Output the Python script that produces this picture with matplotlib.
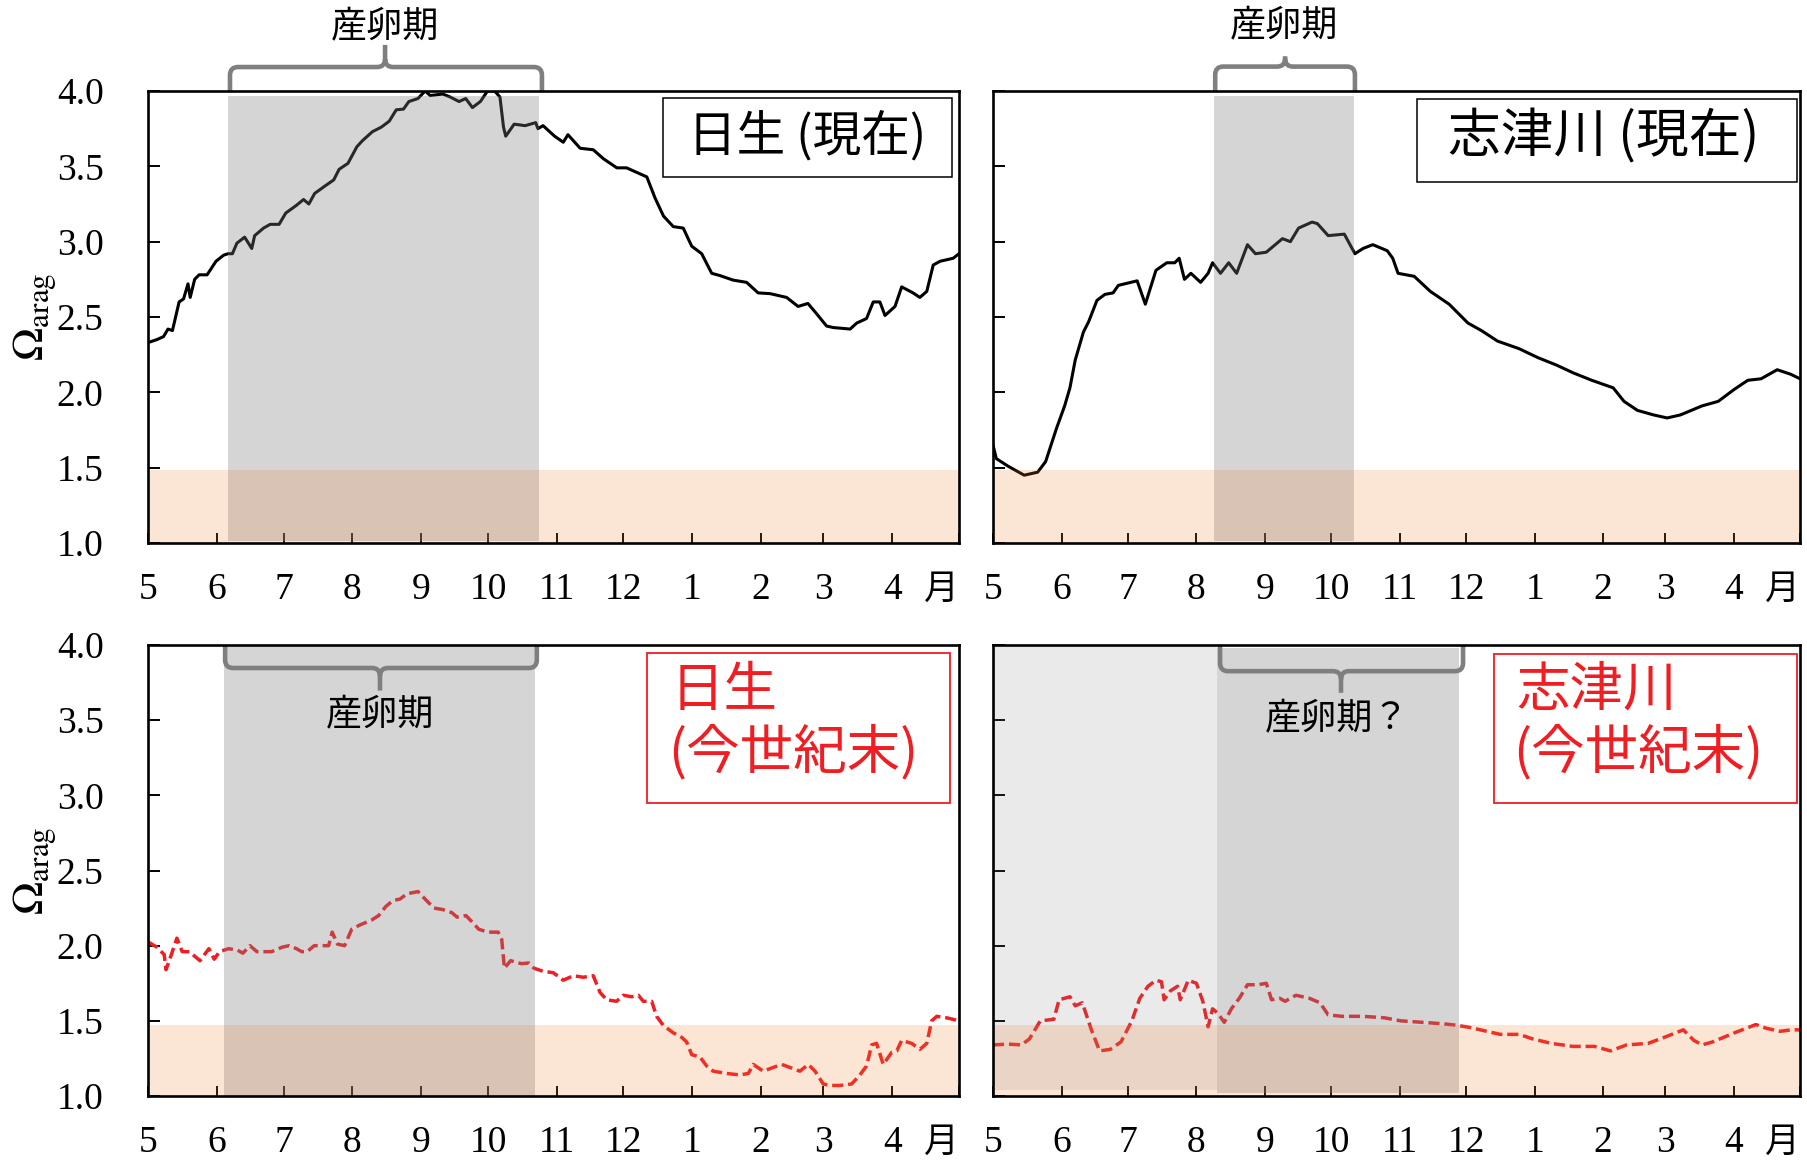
import matplotlib
matplotlib.use("Agg")
import matplotlib.pyplot as plt
from matplotlib.path import Path
from matplotlib.patches import PathPatch, Rectangle
from matplotlib.transforms import blended_transform_factory

plt.rcParams['font.family'] = ['Liberation Serif', 'DejaVu Serif']
plt.rcParams['mathtext.fontset'] = 'stix'
JP = ['Noto Sans CJK JP', 'DejaVu Sans']

# ---- axis definitions (days counted from 1 May) ----
month_days = [0, 31, 61, 92, 123, 153, 184, 214, 245, 276, 304, 335, 365]
month_labels = ['5', '6', '7', '8', '9', '10', '11', '12', '1', '2', '3', '4', '']
y_ticks = [1.0, 1.5, 2.0, 2.5, 3.0, 3.5, 4.0]

# ---- 日生 (現在) ----
hinase_now_day = [0, 4, 7, 9, 11, 14, 16, 18, 19, 21, 23, 26.6, 30.6, 34, 36, 38, 40, 43.5,
                  46.7, 48, 52, 55, 59, 62, 66.7, 70, 72.4, 75, 79.7, 83.6, 86, 90, 94, 96.5,
                  101, 105, 108.6, 111.7, 115, 117.4, 121.5, 124.7, 127, 132.7, 136, 140, 143,
                  146, 149.6, 152.8, 156, 158.4, 160, 161, 164.8, 169.7, 174.5, 175.5, 177.8,
                  183, 186.9, 189, 194.5, 200.4, 205, 211, 215.4, 218.4, 224.5, 228.2, 232,
                  236.4, 240.9, 244.7, 249.2, 253.7, 257.4, 263.3, 269.4, 274.6, 280, 287.4,
                  292.6, 297, 301, 305.4, 308.4, 316, 319, 323.4, 326.4, 329.4, 331.7, 336.2,
                  339.2, 344.3, 347.4, 350.5, 353.4, 356.5, 362.4, 365]
hinase_now_val = [2.33, 2.35, 2.37, 2.42, 2.41, 2.60, 2.62, 2.72, 2.63, 2.75, 2.78, 2.78, 2.87,
                  2.91, 2.92, 2.92, 2.99, 3.03, 2.955, 3.04, 3.09, 3.115, 3.115, 3.19, 3.24,
                  3.28, 3.25, 3.32, 3.37, 3.41, 3.48, 3.52, 3.63, 3.67, 3.73, 3.76, 3.80, 3.875,
                  3.88, 3.93, 3.95, 4.0, 3.97, 3.98, 3.96, 3.93, 3.95, 3.89, 3.93, 4.0, 4.0,
                  3.96, 3.76, 3.70, 3.78, 3.77, 3.79, 3.75, 3.77, 3.70, 3.66, 3.71, 3.62, 3.61,
                  3.55, 3.49, 3.49, 3.47, 3.43, 3.29, 3.17, 3.10, 3.09, 2.97, 2.92, 2.79, 2.775,
                  2.745, 2.73, 2.66, 2.655, 2.63, 2.57, 2.59, 2.52, 2.44, 2.43, 2.42, 2.46,
                  2.49, 2.60, 2.60, 2.51, 2.57, 2.70, 2.66, 2.63, 2.67, 2.845, 2.87, 2.89, 2.92]

# ---- 志津川 (現在) ----
shizugawa_now_day = [0, 1.5, 6.8, 14.1, 20.2, 23.8, 28.7, 32.4, 34.8, 37.2, 40.9, 43.3, 47,
                     50.6, 54.3, 56.7, 65.2, 68.9, 73.7, 78.6, 82.2, 84.2, 86.6, 89.5, 93.9,
                     97.3, 99.3, 102.9, 106.6, 110.2, 115.1, 118.7, 123.6, 130.9, 134.5, 138.2,
                     144.3, 146.7, 151.6, 158.9, 163.7, 167.4, 171.8, 178.3, 180.8, 183.2,
                     190.5, 197.8, 206.3, 214.8, 220.9, 228.2, 237.9, 246.5, 255, 262.3, 270.8,
                     280.5, 285.4, 291.5, 298.8, 304.9, 310.9, 320.7, 328, 335.3, 341.4, 347.4,
                     354.7, 360.8, 365]
shizugawa_now_val = [1.65, 1.56, 1.51, 1.45, 1.47, 1.54, 1.76, 1.91, 2.03, 2.215, 2.40, 2.47,
                     2.61, 2.65, 2.66, 2.71, 2.74, 2.585, 2.81, 2.86, 2.86, 2.89, 2.75, 2.79,
                     2.73, 2.79, 2.86, 2.79, 2.86, 2.79, 2.98, 2.92, 2.93, 3.02, 3.00, 3.09,
                     3.13, 3.12, 3.04, 3.05, 2.92, 2.955, 2.98, 2.94, 2.89, 2.79, 2.77, 2.67,
                     2.585, 2.46, 2.41, 2.34, 2.29, 2.23, 2.18, 2.13, 2.08, 2.03, 1.94, 1.88,
                     1.85, 1.83, 1.85, 1.91, 1.94, 2.02, 2.08, 2.09, 2.15, 2.12, 2.09]

# ---- 日生 (今世紀末) ----
hinase_fut_day = [0, 4, 7.3, 8.1, 10.5, 13, 15.4, 18.6, 21, 23.4, 27.4, 29.8, 32.2, 36.3, 40.3,
                  42.7, 45.9, 49, 55.6, 60.4, 63.5, 66.8, 69.2, 71.6, 74.8, 79.7, 81.3, 82.9,
                  85.3, 88.5, 91.7, 95.7, 100.6, 103.8, 107, 110.2, 113.4, 116.6, 121.5, 124.7,
                  128.7, 132.7, 136.7, 139.1, 143.1, 146.4, 148.8, 152.8, 157.6, 159.2, 160.4,
                  163.2, 168.1, 171.3, 173.7, 177.7, 182.4, 186.9, 191.4, 195.9, 200.4, 203.4,
                  206.4, 210.9, 213.9, 217.7, 220.7, 222.9, 226.7, 228.9, 231.9, 236.4, 240.2,
                  242.4, 244.7, 248.4, 251.4, 254.4, 260.4, 266.4, 270.2, 272.4, 276.9, 281.4,
                  285.2, 288.9, 293.4, 297.2, 300.2, 303.9, 306.9, 311.4, 316.7, 320.4, 323.4,
                  325.7, 327.9, 330.9, 334.7, 337, 339.2, 343.7, 347.4, 350.5, 352.7, 355,
                  359.5, 365]
hinase_fut_val = [2.025, 1.99, 1.94, 1.84, 1.94, 2.05, 1.96, 1.96, 1.93, 1.90, 1.98, 1.91, 1.96,
                  1.98, 1.97, 1.95, 2.00, 1.96, 1.96, 1.99, 2.00, 1.98, 1.96, 1.96, 2.00, 2.00,
                  2.00, 2.09, 2.01, 2.00, 2.11, 2.14, 2.17, 2.20, 2.26, 2.30, 2.31, 2.345, 2.36,
                  2.31, 2.25, 2.24, 2.22, 2.19, 2.20, 2.15, 2.11, 2.09, 2.09, 2.04, 1.85, 1.90,
                  1.88, 1.885, 1.85, 1.83, 1.82, 1.77, 1.80, 1.79, 1.80, 1.69, 1.64, 1.63, 1.67,
                  1.66, 1.67, 1.63, 1.63, 1.53, 1.47, 1.42, 1.39, 1.36, 1.275, 1.26, 1.20,
                  1.165, 1.15, 1.14, 1.15, 1.21, 1.165, 1.19, 1.21, 1.19, 1.165, 1.21, 1.165,
                  1.08, 1.07, 1.07, 1.08, 1.14, 1.20, 1.34, 1.35, 1.21, 1.29, 1.30, 1.37, 1.35,
                  1.31, 1.35, 1.50, 1.53, 1.52, 1.50]

# ---- 志津川 (今世紀末) ----
shizugawa_fut_day = [0, 6.8, 12.9, 16.5, 21.4, 27.5, 29.9, 34.8, 37.2, 40.4, 44.5, 48.2, 53,
                     57.9, 62.8, 66.4, 70.1, 73.7, 76.2, 77.4, 80.3, 83.5, 84.7, 88.3, 92, 94.9,
                     97.3, 99.3, 101.7, 104.6, 107.8, 111.4, 115.1, 120, 123.6, 126, 129.7,
                     132.1, 137, 143.1, 147.9, 151.6, 157.7, 167.4, 177.1, 184.4, 194.2, 203.9,
                     210, 216, 223.4, 229.4, 238, 244, 252.5, 262.3, 272, 279.3, 286.6, 296.3,
                     303.6, 312.2, 317, 320.7, 325.5, 335.3, 345, 349.9, 356, 360.8, 365]
shizugawa_fut_val = [1.34, 1.345, 1.34, 1.38, 1.50, 1.51, 1.64, 1.66, 1.60, 1.62, 1.44, 1.30,
                     1.31, 1.36, 1.50, 1.65, 1.73, 1.77, 1.76, 1.64, 1.70, 1.73, 1.64, 1.77,
                     1.75, 1.63, 1.46, 1.58, 1.55, 1.49, 1.58, 1.65, 1.74, 1.74, 1.75, 1.64,
                     1.65, 1.63, 1.67, 1.65, 1.62, 1.54, 1.53, 1.53, 1.52, 1.50, 1.49, 1.48,
                     1.47, 1.455, 1.43, 1.41, 1.41, 1.38, 1.35, 1.33, 1.33, 1.30, 1.34, 1.35,
                     1.39, 1.44, 1.37, 1.34, 1.36, 1.42, 1.475, 1.45, 1.43, 1.44, 1.44]

W, H = 1808, 1162
fig = plt.figure(figsize=(W / 100, H / 100), dpi=100)


def make_axes(x0, y0, x1, y1):
    return fig.add_axes([x0 / W, (H - y1) / H, (x1 - x0) / W, (y1 - y0) / H])


GRAY = '#7F7F7F'
ORANGE = '#ED7D31'
RED = '#F01E23'
DASH = (0, (3.2, 1.4))


def style_axes(ax, show_ylabels):
    ax.set_xlim(0, 365)
    ax.set_ylim(1.0, 4.0)
    ax.set_xticks(month_days)
    ax.set_xticklabels(month_labels)
    ax.set_yticks(y_ticks)
    ax.set_yticklabels(['%.1f' % v for v in y_ticks])
    ax.tick_params(axis='x', direction='in', length=7, width=1.4, pad=21, labelsize=27,
                   top=False)
    ax.tick_params(axis='y', direction='in', length=8.5, width=1.4, pad=32, labelsize=27,
                   right=False, labelleft=show_ylabels)
    for sp in ax.spines.values():
        sp.set_linewidth(1.9)
        sp.set_zorder(10)
    ax.set_axisbelow(True)
    bt = blended_transform_factory(ax.transData, ax.transAxes)
    ax.text(365, -0.103, '月', transform=bt, ha='right', va='center', fontsize=25,
            family=JP, clip_on=False)
    if show_ylabels:
        ax.text(-0.139, 0.5, r'$\Omega_{\mathrm{arag}}$', transform=ax.transAxes,
                rotation=90, ha='center', va='center', fontsize=32)


def shade(ax, d0, d1, y0, y1, alpha):
    ax.add_patch(Rectangle((d0, y0), d1 - d0, y1 - y0, facecolor=GRAY, alpha=alpha,
                           lw=0, zorder=3))


def band(ax, top):
    ax.add_patch(Rectangle((0, 1.0), 365, top - 1.0, facecolor=ORANGE, alpha=0.2,
                           lw=0, zorder=4))


def brace(ax, x0, x1, xc, yb, ytip, up):
    s = 1 if up else -1
    dx, dy = 3.6, 0.018
    verts = [(x0, 1.0), (x0, yb - s * dy), (x0, yb), (x0 + dx, yb),
             (xc - dx, yb), (xc, yb), (xc, yb + s * dy), (xc, ytip),
             (xc, yb + s * dy), (xc, yb), (xc + dx, yb),
             (x1 - dx, yb), (x1, yb), (x1, yb - s * dy), (x1, 1.0)]
    codes = [Path.MOVETO, Path.LINETO, Path.CURVE3, Path.CURVE3,
             Path.LINETO, Path.CURVE3, Path.CURVE3, Path.LINETO,
             Path.MOVETO, Path.CURVE3, Path.CURVE3,
             Path.LINETO, Path.CURVE3, Path.CURVE3, Path.LINETO]
    bt = blended_transform_factory(ax.transData, ax.transAxes)
    ax.add_patch(PathPatch(Path(verts, codes), transform=bt, fill=False, edgecolor=GRAY,
                           lw=3.3, capstyle='butt', joinstyle='round', clip_on=False,
                           zorder=8))


def label_box(ax, x, y, w, h, color, lw):
    ax.add_patch(Rectangle((x, y), w, h, transform=ax.transAxes, fill=False,
                           edgecolor=color, lw=lw, zorder=9, clip_on=False))


# ---- top left: 日生 (現在) ----
ax1 = make_axes(148, 91, 959, 543)
style_axes(ax1, True)
ax1.plot(hinase_now_day, hinase_now_val, color='black', lw=2.2, zorder=2)
shade(ax1, 36, 176, 1.016, 3.97, 0.32)
band(ax1, 1.485)
brace(ax1, 36.9, 177.3, 106.7, 1.053, 1.102, True)
bt1 = blended_transform_factory(ax1.transData, ax1.transAxes)
ax1.text(106.7, 1.142, '産卵期', transform=bt1, ha='center', va='center', fontsize=26,
         family=JP, clip_on=False)
label_box(ax1, 0.635, 0.810, 0.356, 0.175, 'black', 1.1)
ax1.text(0.813, 0.900, '日生 (現在)', transform=ax1.transAxes, ha='center', va='center',
         fontsize=35, family=JP, zorder=9)

# ---- top right: 志津川 (現在) ----
ax2 = make_axes(993, 91, 1800, 543)
style_axes(ax2, False)
ax2.plot(shizugawa_now_day, shizugawa_now_val, color='black', lw=2.2, zorder=2)
shade(ax2, 99.8, 163.3, 1.016, 3.965, 0.32)
band(ax2, 1.485)
brace(ax2, 100.5, 163.7, 132.1, 1.054, 1.077, True)
bt2 = blended_transform_factory(ax2.transData, ax2.transAxes)
ax2.text(131.5, 1.144, '産卵期', transform=bt2, ha='center', va='center', fontsize=26,
         family=JP, clip_on=False)
label_box(ax2, 0.525, 0.799, 0.471, 0.183, 'black', 1.1)
ax2.text(0.757, 0.898, '志津川 (現在)', transform=ax2.transAxes, ha='center', va='center',
         fontsize=38, family=JP, zorder=9)

# ---- bottom left: 日生 (今世紀末) ----
ax3 = make_axes(148, 645, 959, 1096)
style_axes(ax3, True)
ax3.plot(hinase_fut_day, hinase_fut_val, color=RED, lw=2.5, ls=DASH, zorder=2)
shade(ax3, 34.3, 174, 1.0, 4.0, 0.32)
band(ax3, 1.47)
brace(ax3, 34.7, 175, 104.4, 0.949, 0.899, False)
bt3 = blended_transform_factory(ax3.transData, ax3.transAxes)
ax3.text(104.4, 0.844, '産卵期', transform=bt3, ha='center', va='center', fontsize=26,
         family=JP, zorder=9)
label_box(ax3, 0.615, 0.650, 0.374, 0.332, RED, 1.3)
ax3.text(0.645, 0.900, '日生', transform=ax3.transAxes, ha='left', va='center',
         fontsize=38.5, family=JP, color=RED, zorder=9)
ax3.text(0.641, 0.762, '(今世紀末)', transform=ax3.transAxes, ha='left', va='center',
         fontsize=38.5, family=JP, color=RED, zorder=9)

# ---- bottom right: 志津川 (今世紀末) ----
ax4 = make_axes(993, 645, 1800, 1096)
style_axes(ax4, False)
ax4.plot(shizugawa_fut_day, shizugawa_fut_val, color=RED, lw=2.5, ls=DASH, zorder=2)
shade(ax4, 0, 101.2, 1.04, 4.0, 0.16)
shade(ax4, 101.2, 210.7, 1.017, 3.98, 0.32)
band(ax4, 1.475)
brace(ax4, 102.7, 212.6, 157.4, 0.942, 0.894, False)
bt4 = blended_transform_factory(ax4.transData, ax4.transAxes)
ax4.text(155.6, 0.836, '産卵期？', transform=bt4, ha='center', va='center', fontsize=26,
         family=JP, zorder=9)
label_box(ax4, 0.621, 0.650, 0.375, 0.330, RED, 1.3)
ax4.text(0.649, 0.900, '志津川', transform=ax4.transAxes, ha='left', va='center',
         fontsize=38.5, family=JP, color=RED, zorder=9)
ax4.text(0.645, 0.762, '(今世紀末)', transform=ax4.transAxes, ha='left', va='center',
         fontsize=38.5, family=JP, color=RED, zorder=9)

fig.savefig('out.png', dpi=100)
